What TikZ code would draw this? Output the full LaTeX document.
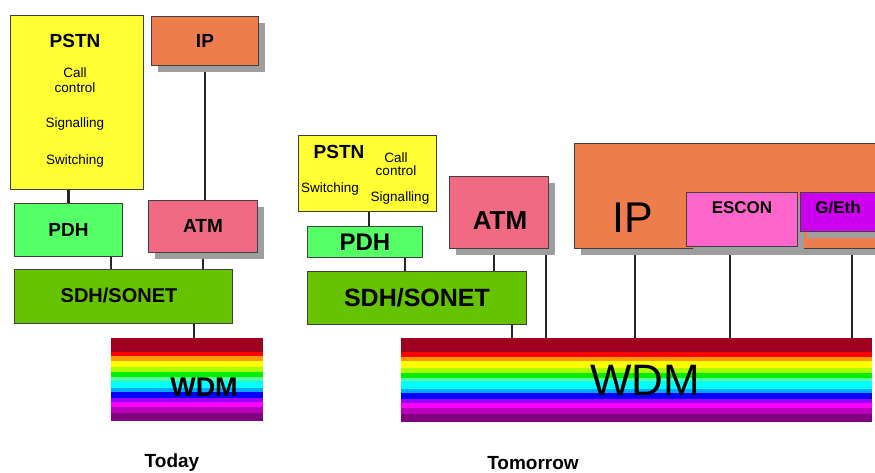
\documentclass[tikz,border=0pt]{standalone}
\usepackage{fontspec}
\setmainfont{Liberation Sans}
\usetikzlibrary{calc,shadows,backgrounds}
\definecolor{pstnyellow}{HTML}{FFFF33}
\definecolor{iporange}{HTML}{EE7D4D}
\definecolor{pdhgreen}{HTML}{55FF66}
\definecolor{atmpink}{HTML}{F06A84}
\definecolor{sdhgreen}{HTML}{66C300}
\definecolor{esconpink}{HTML}{FF66CC}
\definecolor{ethpurple}{HTML}{CC00EE}
\definecolor{wdmA}{HTML}{A00020}
\definecolor{wdmB}{HTML}{FF0000}
\definecolor{wdmC}{HTML}{FF9900}
\definecolor{wdmD}{HTML}{FFFF00}
\definecolor{wdmE}{HTML}{AAFF00}
\definecolor{wdmF}{HTML}{00EE00}
\definecolor{wdmG}{HTML}{55FF99}
\definecolor{wdmH}{HTML}{00FFFF}
\definecolor{wdmI}{HTML}{00AAFF}
\definecolor{wdmJ}{HTML}{0000FF}
\definecolor{wdmK}{HTML}{9900FF}
\definecolor{wdmL}{HTML}{FF00FF}
\definecolor{wdmM}{HTML}{BB00BB}
\definecolor{wdmN}{HTML}{800080}
\tikzset{
  box/.style={draw=black!75, line width=0.9pt, anchor=north west, inner sep=0pt},
  shadowbox/.style={box, drop shadow={shadow xshift=7pt, shadow yshift=-7pt, fill=black!38, opacity=1}},
  lbl/.style={font=\bfseries\fontsize{#1}{#1}\selectfont, inner sep=0pt},
  thin lbl/.style={font=\fontsize{#1}{#1}\selectfont, inner sep=0pt},
  subtext/.style={font=\fontsize{13.5}{#1}\selectfont, align=center, inner sep=0pt},
  link/.style={draw=black!85, line width=2.2pt},
  rainbow/.style={anchor=north west, inner sep=0pt, path picture={
    \foreach \col/\from/\to in {wdmA/0/0.17, wdmB/0.17/0.22, wdmC/0.22/0.27, wdmD/0.27/0.35,
        wdmE/0.35/0.41, wdmF/0.41/0.47, wdmG/0.47/0.51, wdmH/0.51/0.60, wdmI/0.60/0.65,
        wdmJ/0.65/0.72, wdmK/0.72/0.77, wdmL/0.77/0.83, wdmM/0.83/0.90, wdmN/0.90/1}
      \fill[\col] ($(path picture bounding box.north west)!\from!(path picture bounding box.south west)$)
        rectangle ($(path picture bounding box.north east)!\to!(path picture bounding box.south east)$);
  }}
}
\begin{document}
\begin{tikzpicture}[x=1pt,y=-1pt]
  \useasboundingbox (0,0) rectangle (875,472);
  \clip (0,0) rectangle (875,472);
  % today
  \node[box, fill=pstnyellow, minimum width=133pt, minimum height=174pt] (pstnT) at (10,15) {};
  \node[lbl=19] (pstnTname) at (75,41) {PSTN};
  \node[subtext=15] (callT) at (75,80) {Call\\control};
  \node[subtext=15] (sigT) at (75,124) {Signalling};
  \node[subtext=15] (swT) at (75,161) {Switching};
  \node[shadowbox, fill=iporange, minimum width=107pt, minimum height=49pt, lbl=19] (ipT) at (151,16) {IP};
  \node[box, fill=pdhgreen, minimum width=108pt, minimum height=53pt, lbl=19] (pdhT) at (14,203) {PDH};
  \node[shadowbox, fill=atmpink, minimum width=109pt, minimum height=52pt, lbl=19] (atmT) at (148,200) {ATM};
  \node[box, fill=sdhgreen, minimum width=218pt, minimum height=54pt] (sdhT) at (14,269) {};
  \node[lbl=20] (sdhTname) at (119,295) {SDH/SONET};
  \node[rainbow, minimum width=152pt, minimum height=83pt] (wdmT) at (111,338) {};
  \node[lbl=27] (wdmTname) at (204,387) {WDM};
  \node[lbl=19] (today) at (172,463) {Today};
  % tomorrow
  \node[box, fill=pstnyellow, minimum width=138pt, minimum height=76pt] (pstnM) at (298,135) {};
  \node[lbl=19] (pstnMname) at (339,152) {PSTN};
  \node[subtext=13.5] (callM) at (396,164) {Call\\control};
  \node[subtext=13.5] (swM) at (330,189) {Switching};
  \node[subtext=13.5] (sigM) at (400,198) {Signalling};
  \node[box, fill=pdhgreen, minimum width=115pt, minimum height=31pt, lbl=24] (pdhM) at (307,226) {PDH};
  \node[shadowbox, fill=atmpink, minimum width=99pt, minimum height=72pt] (atmM) at (449,176) {};
  \node[lbl=26] (atmMname) at (500,221) {ATM};
  \node[box, fill=sdhgreen, minimum width=219pt, minimum height=53pt, lbl=25] (sdhM) at (307,271) {SDH/SONET};
  \node[shadowbox, fill=iporange, minimum width=330pt, minimum height=105pt] (ipM) at (574,143) {};
  \node[thin lbl=43] (ipMname) at (633,218) {IP};
  \node[shadowbox, fill=esconpink, minimum width=111pt, minimum height=54pt] (escon) at (686,192) {};
  \node[lbl=17] (esconname) at (742,208) {ESCON};
  \node[shadowbox, fill=ethpurple, minimum width=100pt, minimum height=39pt] (geth) at (800,192) {};
  \node[lbl=17] (gethname) at (838,208) {G/Eth};
  \node[rainbow, minimum width=471pt, minimum height=84pt] (wdmM) at (401,338) {};
  \node[thin lbl=44] (wdmMname) at (645,380) {WDM};
  \node[lbl=19] (tomorrow) at (533,463) {Tomorrow};
  % links
  \begin{scope}[on background layer]
    \draw[link] (pdhT.north) -- (pdhT.north |- pstnT.south);
    \draw[link] (ipT.south) -- (ipT.south |- atmT.north);
    \draw[link] ([xshift=-12pt]pdhT.south east) -- ([xshift=-12pt]pdhT.south east |- sdhT.north);
    \draw[link] (atmT.south) -- (atmT.south |- sdhT.north);
    \draw[link] ([xshift=-39pt]sdhT.south east) -- ([xshift=-39pt]sdhT.south east |- wdmT.north);
    \draw[link] ([xshift=4pt]pdhM.north) -- ([xshift=4pt]pdhM.north |- pstnM.south);
    \draw[link] ([xshift=-18pt]pdhM.south east) -- ([xshift=-18pt]pdhM.south east |- sdhM.north);
    \draw[link] ([xshift=-5pt]atmM.south) -- ([xshift=-5pt]atmM.south |- sdhM.north);
    \draw[link] ([xshift=-3pt]atmM.south east) -- ([xshift=-3pt]atmM.south east |- wdmM.north);
    \draw[link] ([xshift=-15pt]sdhM.south east) -- ([xshift=-15pt]sdhM.south east |- wdmM.north);
    \draw[link] ([xshift=61pt]ipM.south west) -- ([xshift=61pt]ipM.south west |- wdmM.north);
    \draw[link] ([xshift=44pt]escon.south west) -- ([xshift=44pt]escon.south west |- wdmM.north);
    \draw[link] ([xshift=52pt]geth.south west) -- ([xshift=52pt]geth.south west |- wdmM.north);
  \end{scope}
\end{tikzpicture}
\end{document}
